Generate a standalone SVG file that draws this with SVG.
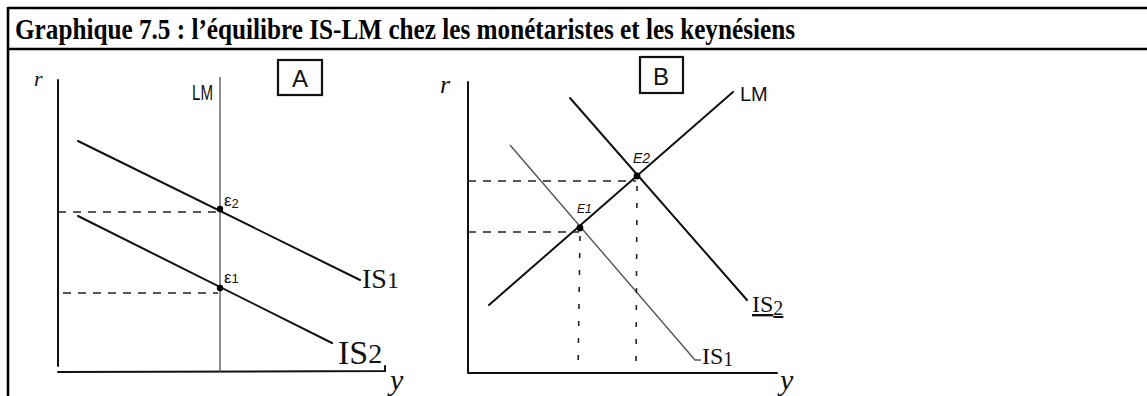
<svg xmlns="http://www.w3.org/2000/svg" width="1147" height="396" viewBox="0 0 1147 396">
<style>
.frame{stroke:#000;stroke-width:2.6;fill:none}
.axis{stroke:#111;stroke-width:2;fill:none;stroke-linecap:round}
.curve{stroke:#111;stroke-width:2;fill:none;stroke-linecap:round}
.thin{stroke:#444;stroke-width:1.2;fill:none}
.dash{stroke:#222;stroke-width:1.5;fill:none;stroke-dasharray:8 7}
.vdash{stroke:#222;stroke-width:1.6;fill:none;stroke-dasharray:5 12}
.box{stroke:#111;stroke-width:2.2;fill:none}
.hand{font-family:"Liberation Sans","DejaVu Sans",sans-serif;fill:#111}
.hs{font-family:"Liberation Serif","DejaVu Serif",serif;fill:#111}
.title{font-family:"Liberation Serif","Times New Roman",serif;font-weight:bold;font-size:29px;fill:#000}
</style>
<rect width="1147" height="396" fill="#fff"/>
<g id="frame">
<line class="frame" x1="8" y1="8" x2="1147" y2="8"/>
<line class="frame" x1="8" y1="49" x2="1147" y2="49"/>
<line class="frame" x1="8" y1="7" x2="8" y2="396"/>
<text class="title" x="15" y="39" textLength="780" lengthAdjust="spacingAndGlyphs">Graphique 7.5 : l’équilibre IS-LM chez les monétaristes et les keynésiens</text>
</g>
<g id="panelA">
<line class="axis" x1="58" y1="80" x2="58" y2="366"/>
<path class="axis" d="M58 372 L385 371 L385 366"/>
<line class="thin" x1="220" y1="77" x2="220" y2="372"/>
<line class="curve" x1="78" y1="141" x2="360" y2="280"/>
<line class="curve" x1="78" y1="216" x2="332" y2="343"/>
<line class="dash" x1="58" y1="212" x2="218" y2="212"/>
<line class="dash" x1="63" y1="293" x2="218" y2="293"/>
<circle cx="220" cy="209" r="3.2" fill="#000"/>
<circle cx="220" cy="288" r="3.2" fill="#000"/>
<rect class="box" x="278" y="60" width="44" height="35"/>
<text class="hand" x="300" y="87" font-size="24" text-anchor="middle">A</text>
<text class="hand" x="192" y="100" font-size="22" textLength="21" lengthAdjust="spacingAndGlyphs">LM</text>
<text class="hs" x="34" y="86" font-size="22" font-style="italic">r</text>
<text class="hand" x="224" y="206" font-size="17">ε<tspan font-size="13" dy="2">2</tspan></text>
<text class="hand" x="224" y="283" font-size="17">ε<tspan font-size="13">1</tspan></text>
<text class="hs" x="362" y="288" font-size="28">IS<tspan font-size="24">1</tspan></text>
<text class="hs" x="338" y="364" font-size="34">IS<tspan font-size="28" dy="-1">2</tspan></text>
<text class="hs" x="390" y="390" font-size="30" font-style="italic">y</text>
</g>
<g id="panelB">
<line class="axis" x1="468" y1="82" x2="468" y2="372"/>
<line class="axis" x1="468" y1="373" x2="777" y2="373"/>
<line class="curve" x1="489" y1="305" x2="733" y2="92"/>
<line class="curve" x1="570" y1="98" x2="747" y2="300"/>
<path d="M510 145 L695 360 L701 360" stroke="#555" stroke-width="1.4" fill="none"/>
<line class="dash" x1="468" y1="181" x2="636" y2="181"/>
<line class="dash" x1="468" y1="232" x2="579" y2="232"/>
<line class="vdash" x1="580" y1="236" x2="578" y2="372"/>
<line class="vdash" x1="637" y1="186" x2="636" y2="372"/>
<circle cx="637" cy="176" r="3.4" fill="#000"/>
<circle cx="580" cy="228" r="3.4" fill="#000"/>
<rect class="box" x="640" y="57" width="43" height="36"/>
<text class="hand" x="661" y="85" font-size="24" text-anchor="middle">B</text>
<text class="hand" x="740" y="101" font-size="20">LM</text>
<text class="hs" x="440" y="93" font-size="26" font-style="italic">r</text>
<text class="hand" x="633" y="163" font-size="14" font-style="italic">E2</text>
<text class="hand" x="577" y="213" font-size="12" font-style="italic">E1</text>
<text class="hs" x="752" y="312" font-size="24" text-decoration="underline">IS<tspan font-size="20" dy="3">2</tspan></text>
<text class="hs" x="702" y="364" font-size="24">IS<tspan font-size="20" dy="2">1</tspan></text>
<text class="hs" x="780" y="390" font-size="30" font-style="italic">y</text>
</g>
</svg>
